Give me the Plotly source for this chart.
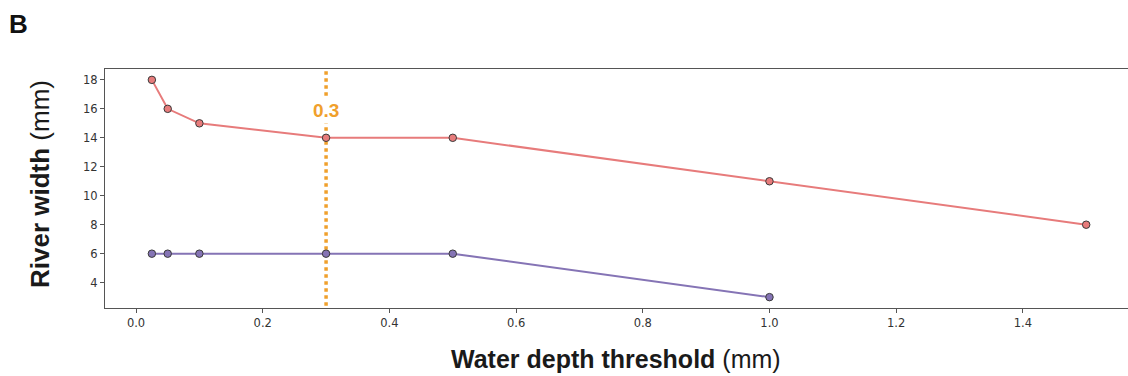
import plotly.graph_objects as go

depth_red = [0.025, 0.05, 0.1, 0.3, 0.5, 1.0, 1.5]
width_red = [18, 16, 15, 14, 14, 11, 8]
depth_purple = [0.025, 0.05, 0.1, 0.3, 0.5, 1.0]
width_purple = [6, 6, 6, 6, 6, 3]
threshold = 0.3
x_ticks = [0.0, 0.2, 0.4, 0.6, 0.8, 1.0, 1.2, 1.4]
y_ticks = [4, 6, 8, 10, 12, 14, 16, 18]

RED = "#e77b7b"
PURPLE = "#8574b5"
ORANGE = "#f0a02c"

W, H = 1128, 376
L, R, T, B = 105, 0, 69, 68
PW, PH = W - L - R, H - T - B


def px(x):
    return (x - L) / PW


def py(y):
    return (H - B - y) / PH


fig = go.Figure()
fig.add_trace(go.Scatter(
    x=[threshold, threshold], y=[2.4, 18.75], mode="lines",
    line=dict(color=ORANGE, width=3.5, dash="dot"), showlegend=False, hoverinfo="skip"))
fig.add_trace(go.Scatter(
    x=depth_red, y=width_red, mode="lines+markers",
    line=dict(color=RED, width=2),
    marker=dict(size=7.5, color=RED, line=dict(color="#3a3a3a", width=1)),
    showlegend=False))
fig.add_trace(go.Scatter(
    x=depth_purple, y=width_purple, mode="lines+markers",
    line=dict(color=PURPLE, width=2),
    marker=dict(size=7.5, color=PURPLE, line=dict(color="#3a3a3a", width=1)),
    showlegend=False))

fig.add_annotation(x=threshold, y=15.9, xref="x", yref="y", text="<b>0.3</b>",
                   showarrow=False, font=dict(family="Liberation Sans, Arial", size=19, color=ORANGE),
                   bgcolor="white", borderpad=2)

fig.add_annotation(x=px(7), y=py(24), xref="paper", yref="paper", text="<b>B</b>",
                   showarrow=False, xanchor="left", yanchor="middle",
                   font=dict(family="Liberation Sans, Arial", size=26, color="#111"))
fig.add_annotation(x=px(616), y=py(359), xref="paper", yref="paper",
                   text="<b>Water depth threshold</b> (mm)", showarrow=False,
                   xanchor="center", yanchor="middle",
                   font=dict(family="Liberation Sans, Arial", size=25, color="#1a1a1a"))
fig.add_annotation(x=px(40), y=py(184), xref="paper", yref="paper",
                   text="<b>River width</b> (mm)", showarrow=False, textangle=-90,
                   xanchor="center", yanchor="middle",
                   font=dict(family="Liberation Sans, Arial", size=26, color="#1a1a1a"))

axis_common = dict(showgrid=False, zeroline=False, showline=True, linecolor="#555",
                   linewidth=1, ticks="outside", ticklen=4, tickcolor="#555",
                   tickfont=dict(family="DejaVu Sans", size=11.5, color="#333"))
fig.update_xaxes(range=[-0.049, 1.566], tickvals=x_ticks,
                 ticktext=[f"{v:.1f}" for v in x_ticks], mirror=True, **axis_common)
fig.update_yaxes(range=[2.25, 18.75], tickvals=y_ticks, mirror=False, **axis_common)

fig.update_layout(width=W, height=H, margin=dict(l=L, r=R, t=T, b=B),
                  plot_bgcolor="white", paper_bgcolor="white")
fig.write_html("out.html")
